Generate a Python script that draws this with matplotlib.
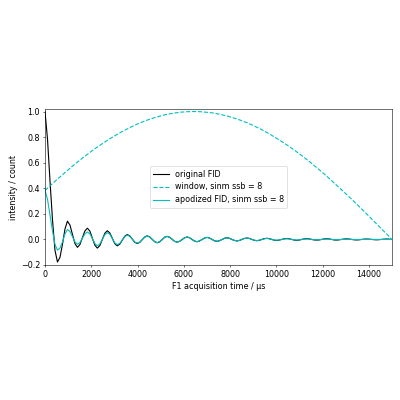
import numpy as np
import matplotlib
matplotlib.use('Agg')
import matplotlib.pyplot as plt

# dwell time of the FID (µs per point)
dwell = 107.75

# original FID, one value per dwell
fid = [1.000, 0.785, 0.460, 0.156, -0.085, -0.177, -0.140, -0.040, 0.080, 0.143,
       0.113, 0.040, -0.032, -0.062, -0.040, 0.013, 0.066, 0.088, 0.065, 0.010,
       -0.045, -0.068, -0.048, 0.000, 0.048, 0.068, 0.051, 0.009, -0.033, -0.050,
       -0.037, -0.006, 0.025, 0.038, 0.028, 0.003, -0.022, -0.032, -0.023, -0.002,
       0.019, 0.028, 0.020, 0.001, -0.018, -0.026, -0.019, -0.001, 0.017, 0.024,
       0.017, 0.001, -0.015, -0.021, -0.015, -0.001, 0.013, 0.019, 0.013, 0.000,
       -0.013, -0.018, -0.012, -0.001, 0.011, 0.016, 0.011, 0.000, -0.011, -0.015,
       -0.010, -0.001, 0.009, 0.013, 0.009, 0.000, -0.008, -0.012, -0.008, 0.000,
       0.008, 0.011, 0.008, 0.000, -0.007, -0.010, -0.007, 0.000, 0.006, 0.009,
       0.006, 0.000, -0.006, -0.008, -0.005, 0.000, 0.005, 0.007, 0.005, 0.000,
       -0.005, -0.007, -0.005, 0.000, 0.004, 0.006, 0.004, 0.000, -0.004, -0.005,
       -0.004, 0.000, 0.004, 0.005, 0.004, 0.000, -0.004, -0.005, -0.003, 0.000,
       0.003, 0.004, 0.003, 0.000, -0.003, -0.004, -0.003, 0.000, 0.002, 0.003,
       0.002, 0.000, -0.002, -0.003, -0.002, 0.000, 0.002, 0.003, 0.002, 0.000]

# window, sinm ssb = 8, same points
window = [0.383, 0.401, 0.419, 0.437, 0.454, 0.472, 0.489, 0.506, 0.523, 0.540,
          0.556, 0.573, 0.589, 0.605, 0.620, 0.636, 0.651, 0.666, 0.680, 0.695,
          0.709, 0.723, 0.736, 0.749, 0.762, 0.775, 0.787, 0.799, 0.811, 0.822,
          0.833, 0.844, 0.854, 0.864, 0.874, 0.884, 0.893, 0.902, 0.910, 0.918,
          0.926, 0.933, 0.940, 0.946, 0.953, 0.958, 0.964, 0.969, 0.974, 0.978,
          0.982, 0.985, 0.989, 0.991, 0.994, 0.996, 0.997, 0.999, 0.999, 1.000,
          1.000, 1.000, 0.999, 0.998, 0.996, 0.994, 0.992, 0.990, 0.986, 0.983,
          0.979, 0.975, 0.970, 0.966, 0.960, 0.954, 0.948, 0.942, 0.935, 0.928,
          0.920, 0.913, 0.904, 0.896, 0.887, 0.877, 0.868, 0.858, 0.847, 0.837,
          0.826, 0.814, 0.803, 0.791, 0.779, 0.766, 0.753, 0.740, 0.727, 0.713,
          0.699, 0.685, 0.670, 0.656, 0.641, 0.625, 0.610, 0.594, 0.578, 0.562,
          0.545, 0.529, 0.512, 0.495, 0.477, 0.460, 0.442, 0.425, 0.407, 0.389,
          0.370, 0.352, 0.333, 0.315, 0.296, 0.277, 0.258, 0.239, 0.220, 0.200,
          0.181, 0.161, 0.142, 0.122, 0.102, 0.083, 0.063, 0.044, 0.024, 0.004]

fid = np.array(fid)
window = np.array(window)
t = np.arange(len(fid)) * dwell
apod = fid * window

plt.rcParams['font.size'] = 11.5
fig = plt.figure(figsize=(8, 8), dpi=50)
ax = fig.add_axes([0.1125, 0.3375, 0.8675, 0.39])
ax.plot(t, fid, color='k', lw=1.6, label='original FID')
ax.plot(t, window, color='c', lw=1.6, ls='--', label='window, sinm ssb = 8')
ax.plot(t, apod, color='c', lw=1.6, label='apodized FID, sinm ssb = 8')
ax.set_xlim(0, 15000)
ax.set_ylim(-0.2, 1.02)
ax.set_xlabel('F1 acquisition time / µs')
ax.set_ylabel('intensity / count')
ax.legend(loc='center')
fig.savefig('out.png', dpi=50)
